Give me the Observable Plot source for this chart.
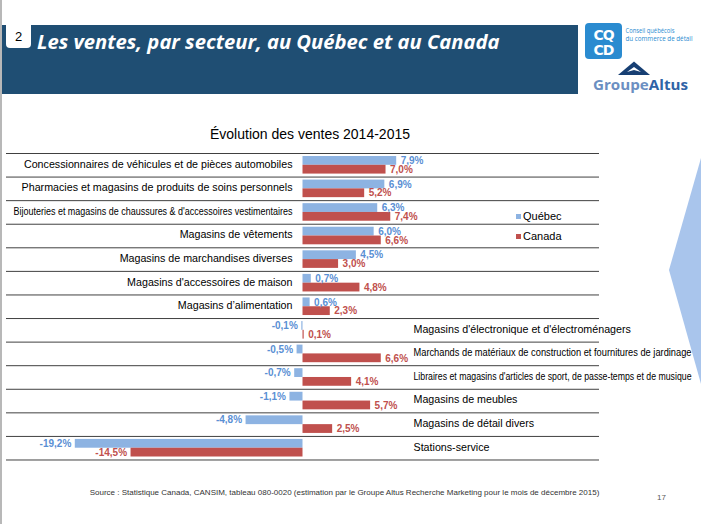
<!DOCTYPE html>
<html>
<head>
<meta charset="utf-8">
<script src="https://cdn.jsdelivr.net/npm/d3@7"></script>
<script src="https://cdn.jsdelivr.net/npm/@observablehq/plot@0.6"></script>
<style>
  html, body { margin: 0; padding: 0; background: #fff; }
  #page { position: relative; width: 701px; height: 524px; overflow: hidden; font-family: Arial, "Liberation Sans", sans-serif; }
  .abs { position: absolute; }
</style>
</head>
<body>
<div id="page">
  <div class="abs" style="left:0;top:0;width:1.5px;height:524px;background:#b8b8b8"></div>
  <div class="abs" style="left:2px;top:25px;width:576px;height:69px;background:#1f4e73"></div>
  <div class="abs" style="left:6px;top:25px;width:25px;height:23px;background:#fff;border-radius:0 0 4px 4px;font:13px Arial,'Liberation Sans',sans-serif;color:#000;text-align:center;line-height:24px">2</div>
  <div class="abs" id="htitle" style="left:37px;top:27px;font:italic bold 20.2px 'Open Sans',sans-serif;color:#fff;white-space:nowrap">Les ventes, par secteur, au Québec et au Canada</div>
  <svg class="abs" style="left:0;top:0" width="701" height="524">
    <rect x="585" y="23" width="37" height="36" rx="4" fill="#2a8bd0"/>
    <text x="603.5" y="39.5" text-anchor="middle" font-family="'DejaVu Sans'" font-weight="bold" font-size="14" fill="#fff" letter-spacing="-1">CQ</text>
    <text x="603.5" y="54.5" text-anchor="middle" font-family="'DejaVu Sans'" font-weight="bold" font-size="14" fill="#fff" letter-spacing="-1">CD</text>
    <text x="625.5" y="33" font-family="'Open Sans'" font-size="7" fill="#2a8bd0" textLength="49" lengthAdjust="spacingAndGlyphs">Conseil québécois</text>
    <text x="625.5" y="41" font-family="'Open Sans'" font-size="7" fill="#2a8bd0" textLength="67" lengthAdjust="spacingAndGlyphs">du commerce de détail</text>
    <polygon points="618,75 634,61.5 650,75" fill="#173f73"/>
    <polygon points="627,72 634,67 641,72 634,70" fill="#fff"/>
    <text x="593" y="90" font-family="'Open Sans'" font-weight="bold" font-size="14.5" fill="#6b8fc2" textLength="95" lengthAdjust="spacingAndGlyphs">Groupe<tspan fill="#2f63a6">Altus</tspan></text>
    <polygon points="701,158 669,270 701,384" fill="#a9c5ec"/>
  </svg>
  <div class="abs" style="left:0;top:126px;width:620px;text-align:center;font-size:14px;line-height:16px;color:#000">Évolution des ventes 2014-2015</div>
  <div class="abs" id="chart" style="left:0;top:115px"></div>
  <div class="abs" id="legend" style="left:516px;top:206px;font-size:11px;color:#000"></div>
  <div class="abs" style="left:0;top:488px;width:689px;text-align:center;font-size:8px;line-height:10px;color:#333">Source : Statistique Canada, CANSIM, tableau 080-0020 (estimation par le Groupe Altus Recherche Marketing pour le mois de décembre 2015)</div>
  <div class="abs" style="left:657px;top:493px;font-size:8px;line-height:10px;color:#595959">17</div>
</div>
<script>
const categories = [
  "Concessionnaires de véhicules et de pièces automobiles",
  "Pharmacies et magasins de produits de soins personnels",
  "Bijouteries et magasins de chaussures & d'accessoires vestimentaires",
  "Magasins de vêtements",
  "Magasins de marchandises diverses",
  "Magasins d'accessoires de maison",
  "Magasins d’alimentation",
  "Magasins d'électronique et d'électroménagers",
  "Marchands de matériaux de construction et fournitures de jardinage",
  "Libraires et magasins d'articles de sport, de passe-temps et de musique",
  "Magasins de meubles",
  "Magasins de détail divers",
  "Stations-service"
];
const quebec = [7.9, 6.9, 6.3, 6.0, 4.5, 0.7, 0.6, -0.1, -0.5, -0.7, -1.1, -4.8, -19.2];
const canada = [7.0, 5.2, 7.4, 6.6, 3.0, 4.8, 2.3, 0.1, 6.6, 4.1, 5.7, 2.5, -14.5];
const seriesNames = ["Québec", "Canada"];
const barColors = ["#8db3e2", "#c0504d"];
const valueColors = ["#5a8fd4", "#c0504d"];

const rows = categories.map((c, i) => ({category: c, quebec: quebec[i], canada: canada[i]}));
const fmt = v => v.toFixed(1).replace(".", ",") + "%";

const W = 701, H = 360, mT = 38, mB = 15.5;
const bw = (H - mT - mB) / categories.length;
const half = bw / 2;
const pad = 3;
const off = (half - pad) / 2; // distance from band centre to each bar's centre
const fontFam = "Arial, 'Liberation Sans', sans-serif";

function valueMarks(key, idx, dy) {
  const pos = rows.filter(d => d[key] >= 0), neg = rows.filter(d => d[key] < 0);
  const common = {y: "category", text: d => fmt(d[key]), dy, fill: valueColors[idx], fontWeight: "bold", fontSize: 10};
  return [
    Plot.text(pos, {...common, x: key, textAnchor: "start", dx: 4}),
    Plot.text(neg, {...common, x: key, textAnchor: "end", dx: -4})
  ];
}

const chart = Plot.plot({
  width: W, height: H,
  marginLeft: 6, marginRight: 102, marginTop: mT, marginBottom: mB,
  style: {fontFamily: fontFam, background: "transparent", overflow: "visible"},
  x: {domain: [-25, 25], axis: null},
  y: {domain: categories, axis: null, padding: 0, round: false},
  marks: [
    Plot.ruleY(categories, {y: d => d, dy: -half, stroke: "#404040", strokeWidth: 1}),
    Plot.ruleY([categories[categories.length - 1]], {y: d => d, dy: half, stroke: "#404040", strokeWidth: 1}),
    Plot.barX(rows, {x: "quebec", y: "category", fill: barColors[0], insetTop: pad, insetBottom: half}),
    Plot.barX(rows, {x: "canada", y: "category", fill: barColors[1], insetTop: half, insetBottom: pad}),
    ...valueMarks("quebec", 0, -off),
    ...valueMarks("canada", 1, off),
    Plot.text(rows.filter(d => d.quebec >= 0), {x: () => 0, y: "category", text: "category", textAnchor: "end", dx: -10.5, dy: -1, fontSize: 10.7, fill: "#000"}),
    Plot.text(rows.filter(d => d.quebec < 0), {x: () => 0, y: "category", text: "category", textAnchor: "start", dx: 110.5, dy: -1, fontSize: 10.7, fill: "#000"})
  ]
});
document.getElementById("chart").appendChild(chart);

// squeeze over-long category labels to fit their column, as the original does
function fitLabels() {
  chart.querySelectorAll("text").forEach(t => {
    const content = t.textContent;
    if (!categories.includes(content)) return;
    const anchorEl = t.closest("[text-anchor]");
    const anchor = anchorEl ? anchorEl.getAttribute("text-anchor") : "start";
    const maxW = anchor === "end" ? 279 : 278;
    t.removeAttribute("textLength");
    const len = t.getComputedTextLength();
    if (len > maxW) {
      t.setAttribute("textLength", maxW);
      t.setAttribute("lengthAdjust", "spacingAndGlyphs");
    }
  });
}
fitLabels();
if (document.fonts && document.fonts.ready) document.fonts.ready.then(fitLabels);

const legend = d3.select("#legend");
seriesNames.forEach((s, i) => {
  const item = legend.append("div").style("display", "flex").style("align-items", "center").style("height", "20px");
  item.append("span").style("display", "inline-block").style("width", "5px").style("height", "5px").style("background", barColors[i]).style("margin-right", "2px");
  item.append("span").text(s);
});
</script>
</body>
</html>
